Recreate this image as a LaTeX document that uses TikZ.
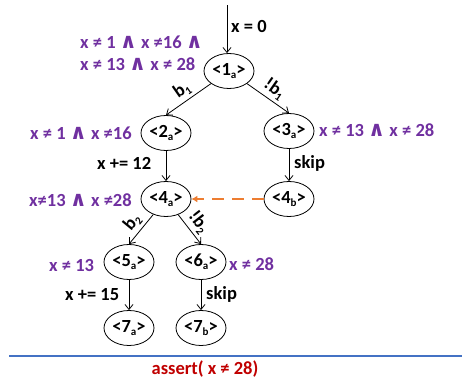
\documentclass[tikz,border=0pt]{standalone}
\usepackage{fontspec}
\setmainfont{Carlito}
\newfontfamily\symfont{DejaVu Sans}
\usetikzlibrary{arrows.meta,shapes.geometric}
\definecolor{purp}{HTML}{7030A0}
\definecolor{orng}{HTML}{ED7D31}
\definecolor{blu}{HTML}{4472C4}
\definecolor{rd}{HTML}{C00000}
\newcommand{\lsub}[1]{\raisebox{-0.35ex}{\fontsize{11}{11}\selectfont #1}}
\newcommand{\myand}{{\symfont\bfseries\fontsize{21}{18}\selectfont ∧}}
\begin{document}
\begin{tikzpicture}[x=1pt,y=-1pt, font=\fontsize{18.5}{20}\selectfont\bfseries,
 st/.style={draw, ellipse, minimum width=50pt, minimum height=35pt, inner sep=0pt, line width=0.8pt},
 ed/.style={-{Straight Barb[length=5pt,width=8pt]}, line width=0.8pt},
 cond/.style={text=purp, inner sep=0pt, anchor=west},
 lab/.style={inner sep=0pt, anchor=west},
 el/.style={sloped, above, inner sep=3pt}]
\useasboundingbox (0,0) rectangle (462,380);
\node[st] (n1) at (229,71) {<1\lsub{a}>};
\node[st] (n2) at (166,133) {<2\lsub{a}>};
\node[st] (n3) at (289,131) {<3\lsub{a}>};
\node[st] (n4) at (166,199) {<4\lsub{a}>};
\node[st] (n4b) at (289,199) {<4\lsub{b}>};
\node[st] (n5) at (129,262) {<5\lsub{a}>};
\node[st] (n6) at (201,262) {<6\lsub{a}>};
\node[st] (n7) at (129,328) {<7\lsub{a}>};
\node[st] (n7b) at (201,328) {<7\lsub{b}>};
\coordinate (start) at (227,5);
\draw[ed] (start) -- (start |- n1.north);
\draw[ed] (n1) -- node[el]{b\lsub{1}} (n2.north);
\draw[ed] (n1) -- node[el]{!b\lsub{1}} (n3.north);
\draw[ed] (n2) -- (n4);
\draw[ed] (n3) -- (n4b);
\draw[ed] (n4) -- node[el]{b\lsub{2}} (n5.north);
\draw[ed] (n4) -- node[el]{!b\lsub{2}} (n6.north);
\draw[ed] (n5) -- (n7);
\draw[ed] (n6) -- (n7b);
\draw[orng, line width=1.8pt, dash pattern=on 12pt off 8pt, -{Latex[length=6pt,width=7pt]}] (n4b) -- (n4);
\node[lab] (l0) at (231,26) {x = 0};
\node[cond] (c1) at (80,42) {x ≠ 1 \myand{} x ≠16 \myand};
\node[cond] (c1b) at (80,64) {x ≠ 13 \myand{} x ≠ 28};
\node[cond] (c2) at (30,133) {x ≠ 1 \myand{} x ≠16};
\node[cond] (c3) at (319,130) {x ≠ 13 \myand{} x ≠ 28};
\node[cond] (c4) at (29,200) {x≠13 \myand{} x ≠28};
\node[cond] (c5) at (49,265) {x ≠ 13};
\node[cond] (c6) at (229,264) {x ≠ 28};
\node[lab] (l1) at (97,163) {x += 12};
\node[lab] (l2) at (294,163) {skip};
\node[lab] (l3) at (65,295) {x += 15};
\node[lab] (l4) at (206,294) {skip};
\coordinate (bl) at (9,356);
\coordinate (br) at (462,356);
\draw[blu, line width=2.5pt] (bl) -- (br);
\node[text=rd, inner sep=0pt] (as) at (205,369) {assert( x ≠ 28)};
\end{tikzpicture}
\end{document}
